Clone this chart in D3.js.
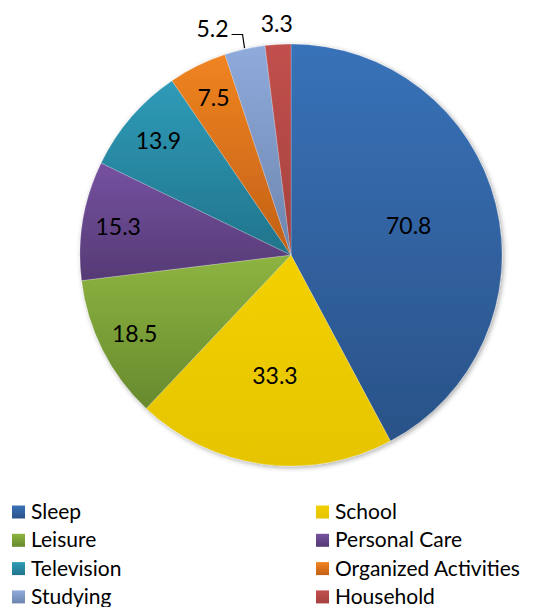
<!DOCTYPE html>
<html>
<head>
<meta charset="utf-8">
<script src="https://cdn.jsdelivr.net/npm/d3@7"></script>
<style>
  html, body { margin: 0; padding: 0; background: #fff; }
  svg { display: block; }
  text { font-family: Lato, "Open Sans", sans-serif; }
</style>
</head>
<body>
<div id="chart"></div>
<script>
// Weekly hours by activity
const categories = ["Sleep", "School", "Leisure", "Personal Care", "Television", "Organized Activities", "Studying", "Household"];
const hours = [70.8, 33.3, 18.5, 15.3, 13.9, 7.5, 5.2, 3.3];
const valueLabels = ["70.8", "33.3", "18.5", "15.3", "13.9", "7.5", "5.2", "3.3"];
const topColors = ["#3872b8", "#f2d000", "#8db441", "#7651a0", "#2f9bb8", "#f08421", "#8fabdc", "#c2504d"];
const bottomColors = ["#2a5288", "#e6c400", "#678a2e", "#553a75", "#21748b", "#c26016", "#6c85ae", "#a3413e"];

const W = 541, H = 607;
const cx = 291, cy = 255, r = 211;

const svg = d3.select("#chart").append("svg").attr("width", W).attr("height", H);
const defs = svg.append("defs");

// Vertical shading per slice, lighter at the top of each wedge
categories.forEach((c, i) => {
  const g = defs.append("linearGradient").attr("id", "grad" + i)
    .attr("x1", 0).attr("y1", 0).attr("x2", 0).attr("y2", 1);
  g.append("stop").attr("offset", "0%").attr("stop-color", topColors[i]);
  g.append("stop").attr("offset", "100%").attr("stop-color", bottomColors[i]);
});

const shadow = defs.append("filter").attr("id", "shadow")
  .attr("x", "-10%").attr("y", "-10%").attr("width", "120%").attr("height", "120%");
shadow.append("feDropShadow").attr("dx", 1.5).attr("dy", 1.5).attr("stdDeviation", 2.5)
  .attr("flood-color", "#000").attr("flood-opacity", 0.35);

const data = categories.map((c, i) => ({ name: c, value: hours[i], label: valueLabels[i], i }));
const total = d3.sum(hours);

const pie = d3.pie().value(d => d.value).sort(null);
const arcs = pie(data);
const arc = d3.arc().innerRadius(0).outerRadius(r);

const g = svg.append("g").attr("transform", `translate(${cx},${cy})`);

g.append("g").attr("filter", "url(#shadow)")
  .selectAll("path").data(arcs).join("path")
  .attr("d", arc)
  .attr("fill", d => `url(#grad${d.data.i})`)
  .attr("stroke", "rgba(255,255,255,0.35)")
  .attr("stroke-width", 0.6);

const mid = d => (d.startAngle + d.endAngle) / 2;
const polar = (a, rr) => [Math.sin(a) * rr, -Math.cos(a) * rr];

const labelG = g.append("g").attr("font-size", 23).attr("fill", "#000");

arcs.forEach(d => {
  const share = d.data.value / total;
  const a = mid(d);
  if (share >= 0.15) {
    const [x, y] = polar(a, r * 0.575);
    labelG.append("text").attr("x", x).attr("y", y).attr("dy", "0.36em")
      .attr("text-anchor", "middle").text(d.data.label);
  } else if (share >= 0.04) {
    const [x, y] = polar(a, r * 0.83);
    labelG.append("text").attr("x", x).attr("y", y).attr("dy", "0.36em")
      .attr("text-anchor", "middle").text(d.data.label);
  } else if (d.index === arcs.length - 1) {
    // last thin wedge: label just outside the rim
    const [x, y] = polar(a, r * 1.1);
    labelG.append("text").attr("x", x).attr("y", y).attr("dy", "0.36em")
      .attr("text-anchor", "middle").text(d.data.label);
  } else {
    // thin wedge with a leader line out to the left
    const [x0, y0] = polar(a, r + 1);
    const y1 = -r * 1.045;
    const pts = [[x0, y0], [x0 - 2, y1], [x0 - 13, y1]];
    labelG.append("path").attr("d", d3.line()(pts))
      .attr("fill", "none").attr("stroke", "#000").attr("stroke-width", 1.2);
    labelG.append("text").attr("x", x0 - 16).attr("y", y1 + 2)
      .attr("text-anchor", "end").text(d.data.label);
  }
});

// Legend: two columns, four rows
const legend = svg.append("g").attr("font-size", 21);
const colX = [12, 316];
const rowY0 = 512, rowStep = 28.3, sq = 13;
data.forEach((d, k) => {
  const col = k % 2, row = Math.floor(k / 2);
  const x = colX[col], y = rowY0 + row * rowStep;
  legend.append("rect").attr("x", x).attr("y", y - sq / 2).attr("width", sq).attr("height", sq)
    .attr("fill", `url(#grad${d.i})`);
  legend.append("text").attr("x", x + sq + 6).attr("y", y + 7).attr("fill", "#000").text(d.name);
});
</script>
</body>
</html>
